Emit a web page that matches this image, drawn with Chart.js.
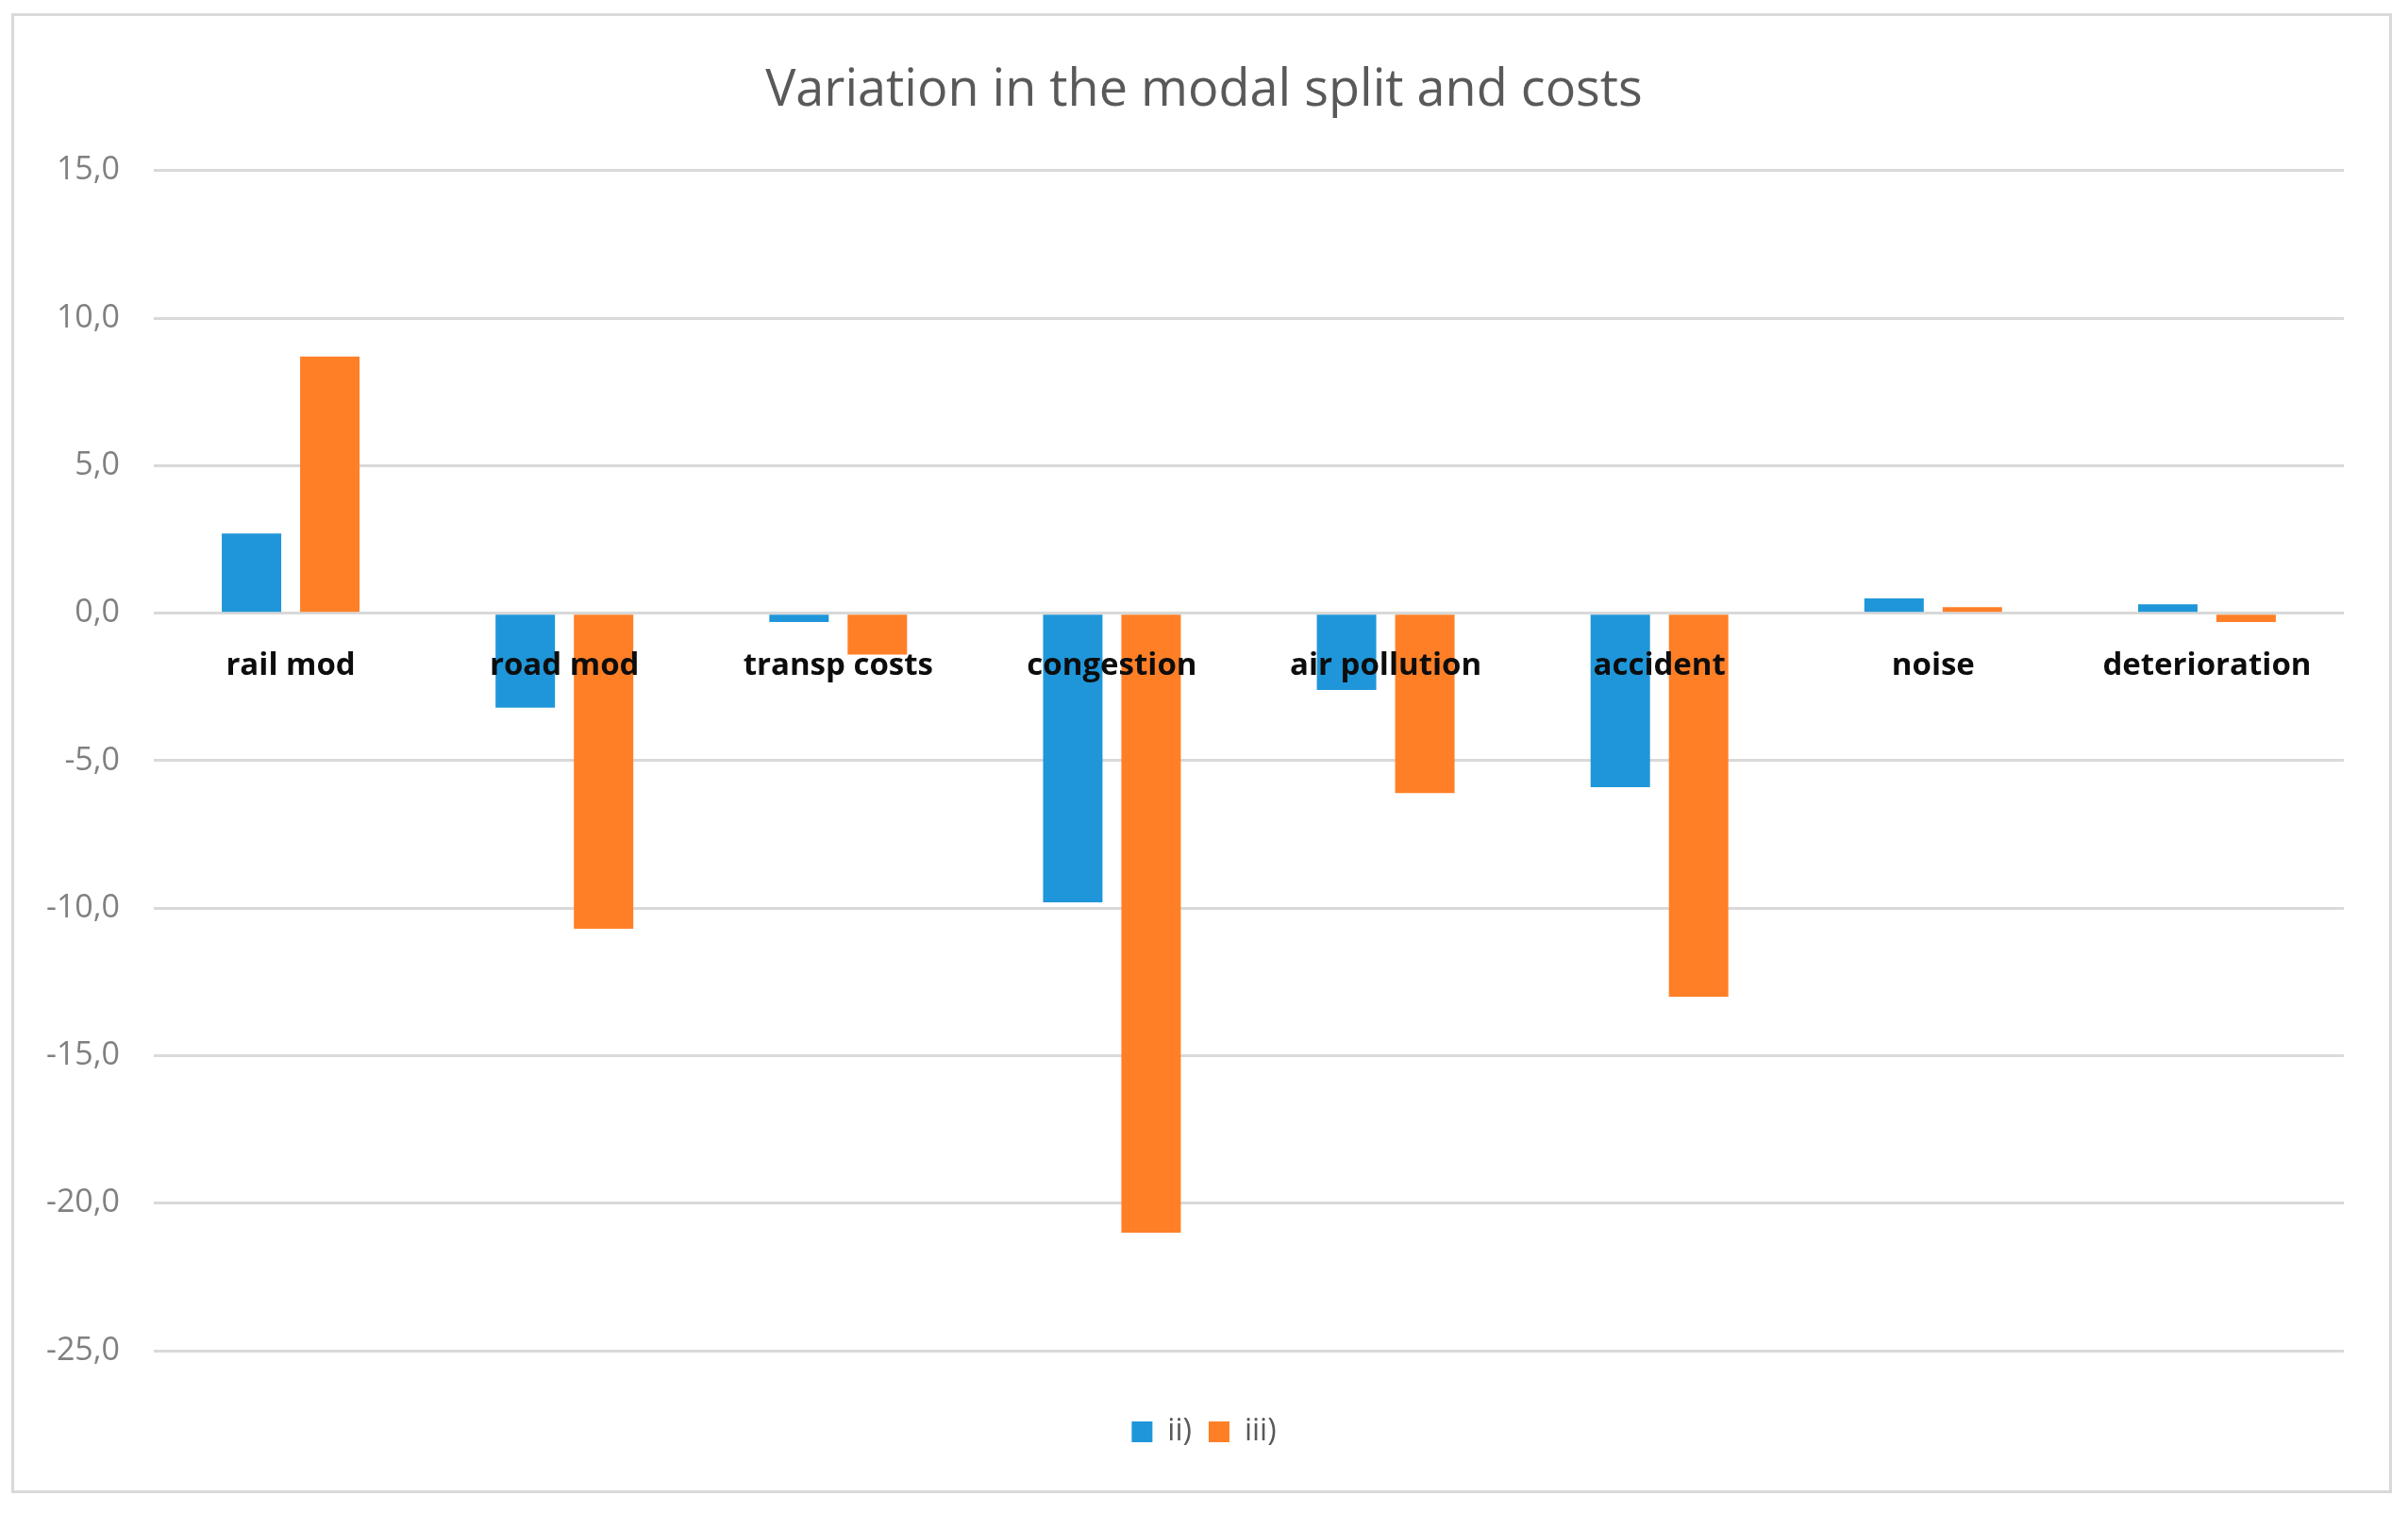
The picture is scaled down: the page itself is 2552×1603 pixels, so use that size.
<!DOCTYPE html>
<html>
<head>
<meta charset="utf-8">
<script src="https://cdn.jsdelivr.net/npm/chart.js@4.4.1/dist/chart.umd.min.js"></script>
<style>
  html, body { margin: 0; padding: 0; background: #ffffff; }
  #frame { position: absolute; left: 12px; top: 14px; width: 2523px; height: 1568px; box-sizing: border-box; border: 3px solid #d9d9d9; }
  #c { position: absolute; left: 0; top: 0; }
</style>
</head>
<body>
<div id="frame"></div>
<canvas id="c" width="2552" height="1603"></canvas>
<script>
const categories = ['rail mod', 'road mod', 'transp costs', 'congestion', 'air pollution', 'accident', 'noise', 'deterioration'];
const seriesNames = ['ii)', 'iii)'];
const seriesII  = [2.7, -3.2, -0.3, -9.8, -2.6, -5.9, 0.5, 0.3];
const seriesIII = [8.7, -10.7, -1.4, -21.0, -6.1, -13.0, 0.2, -0.3];
const yMin = -25, yMax = 15, yStep = 5;
const titleText = 'Variation in the modal split and costs';

const PLOT_LEFT = 163, RIGHT_GAP = 68;

new Chart(document.getElementById('c'), {
  type: 'bar',
  data: {
    labels: categories,
    datasets: [
      { label: seriesNames[0], data: seriesII, backgroundColor: '#1F96D9', borderWidth: 0 },
      { label: seriesNames[1], data: seriesIII, backgroundColor: '#FF7F27', borderWidth: 0 }
    ]
  },
  options: {
    responsive: false,
    devicePixelRatio: 1,
    animation: false,
    categoryPercentage: 0.572,
    barPercentage: 0.759,
    layout: { padding: { left: 0, right: 0, top: 0, bottom: 60 } },
    plugins: {
      title: {
        display: true,
        text: titleText,
        color: '#595959',
        font: { family: 'Open Sans', size: 54, weight: 'normal', lineHeight: 1.2 },
        padding: { top: 64, bottom: 52 }
      },
      legend: {
        display: true,
        position: 'bottom',
        title: { display: true, text: '', font: { size: 10, lineHeight: 1.2 }, padding: { top: 40, bottom: 0 } },
        labels: {
          color: '#595959',
          font: { family: 'Open Sans', size: 32 },
          boxWidth: 22,
          boxHeight: 22,
          padding: 18
        }
      },
      tooltip: { enabled: false }
    },
    scales: {
      x: {
        position: { y: 0 },
        grid: { display: false, drawTicks: false },
        border: { display: false },
        ticks: {
          z: 1,
          color: '#0d0d0d',
          font: { family: 'Open Sans', size: 33, weight: 'bold', lineHeight: 1.2 },
          padding: 36,
          autoSkip: false,
          maxRotation: 0,
          minRotation: 0
        }
      },
      y: {
        min: yMin,
        max: yMax,
        grid: { color: '#d9d9d9', lineWidth: 3, drawTicks: false },
        border: { display: false },
        afterFit: (scale) => { scale.width = PLOT_LEFT; },
        ticks: {
          stepSize: yStep,
          color: '#808080',
          font: { family: 'Open Sans', size: 34 },
          padding: 36,
          callback: (v) => Number(v).toFixed(1).replace('.', ',')
        }
      },
      yRight: {
        position: 'right',
        min: yMin,
        max: yMax,
        grid: { display: false, drawTicks: false },
        border: { display: false },
        ticks: { display: false },
        afterFit: (scale) => { scale.width = RIGHT_GAP; }
      }
    }
  }
});
</script>
</body>
</html>
